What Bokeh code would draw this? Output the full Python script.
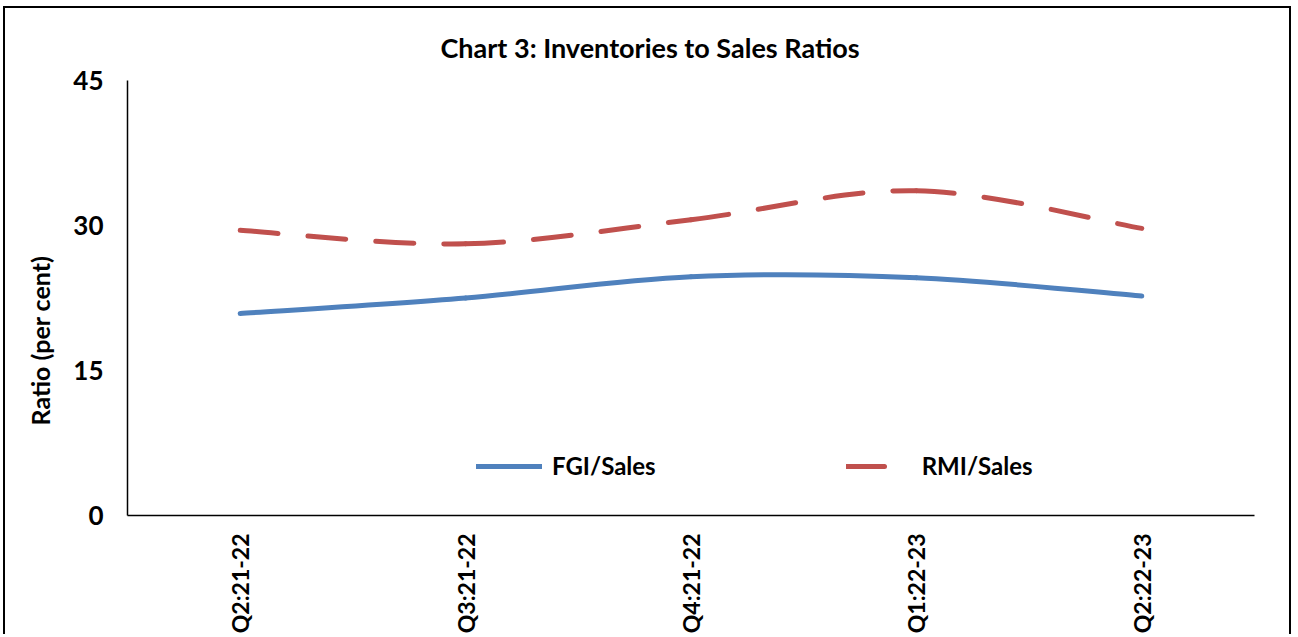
import numpy as np
from bokeh.plotting import figure
from bokeh.models import Range1d, FixedTicker, Legend, LegendItem, Title
from bokeh.embed import file_html
from bokeh.resources import INLINE

# ---- data ----
categories = ["Q2:21-22", "Q3:21-22", "Q4:21-22", "Q1:22-23", "Q2:22-23"]
fgi_sales = [20.9, 22.5, 24.7, 24.6, 22.7]
rmi_sales = [29.5, 28.1, 30.6, 33.6, 29.7]
y_ticks = [0, 15, 30, 45]

FONT = "Lato"
BLUE = "#4F81BD"
RED = "#C0504D"

xs = [i + 0.5 for i in range(len(categories))]


def smooth_segments(x, y):
    """Bezier control points for an Excel-style smoothed line."""
    px = [x[0]] + list(x) + [x[-1]]
    py = [y[0]] + list(y) + [y[-1]]
    seg = dict(x0=[], y0=[], x1=[], y1=[], cx0=[], cy0=[], cx1=[], cy1=[])
    for i in range(len(x) - 1):
        j = i + 1
        seg["x0"].append(px[j]); seg["y0"].append(py[j])
        seg["x1"].append(px[j + 1]); seg["y1"].append(py[j + 1])
        seg["cx0"].append(px[j] + (px[j + 1] - px[j - 1]) / 6)
        seg["cy0"].append(py[j] + (py[j + 1] - py[j - 1]) / 6)
        seg["cx1"].append(px[j + 1] - (px[j + 2] - px[j]) / 6)
        seg["cy1"].append(py[j + 1] - (py[j + 2] - py[j]) / 6)
    return seg


p = figure(width=1288, height=628, output_backend="svg", toolbar_location=None,
           x_range=Range1d(0, len(categories)), y_range=Range1d(0, 45),
           min_border_left=122, min_border_right=39, min_border_top=72, min_border_bottom=121)
p.styles = {"border": "2px solid #000000", "border-bottom": "none",
            "margin-left": "3px", "margin-top": "6px"}
p.outline_line_color = None
p.xgrid.visible = False
p.ygrid.visible = False

p.title.text = "Chart 3: Inventories to Sales Ratios"
p.title.align = "left"
p.title.offset = 313
p.title.standoff = 33
p.title.text_font = FONT
p.title.text_font_size = "27px"
p.title.text_font_style = "bold"
p.title.text_color = "#000000"

fgi_r = p.bezier(**smooth_segments(xs, fgi_sales), line_color=BLUE, line_width=5, line_cap="round")
rmi_r = p.bezier(**smooth_segments(xs, rmi_sales), line_color=RED, line_width=5, line_cap="round",
                 line_dash="38 30")

xa = p.xaxis[0]
xa.ticker = FixedTicker(ticks=xs)
xa.major_label_overrides = {x: c for x, c in zip(xs, categories)}
xa.major_label_orientation = np.pi / 2
xa.major_tick_line_color = None
xa.major_tick_out = 0
xa.major_tick_in = 0
xa.minor_tick_line_color = None
xa.axis_line_color = "#000000"
xa.axis_line_width = 1.5
xa.major_label_standoff = 18
xa.major_label_text_font = FONT
xa.major_label_text_font_size = "23px"
xa.major_label_text_font_style = "bold"
xa.major_label_text_color = "#000000"

ya = p.yaxis[0]
ya.ticker = FixedTicker(ticks=y_ticks)
ya.major_tick_line_color = None
ya.major_tick_out = 0
ya.major_tick_in = 0
ya.minor_tick_line_color = None
ya.axis_line_color = "#000000"
ya.axis_line_width = 1.5
ya.major_label_standoff = 24
ya.major_label_text_font = FONT
ya.major_label_text_font_size = "26px"
ya.major_label_text_font_style = "bold"
ya.major_label_text_color = "#000000"

ytitle = Title(text="Ratio (per cent)", align="left", offset=90, standoff=32,
               text_font=FONT, text_font_size="25px", text_font_style="bold",
               text_color="#000000")
p.add_layout(ytitle, "left")

legend = Legend(items=[LegendItem(label="FGI/Sales", renderers=[fgi_r]),
                       LegendItem(label="RMI/Sales", renderers=[rmi_r])],
                orientation="horizontal", location=(349, 35),
                border_line_color=None, background_fill_alpha=0,
                glyph_width=66, glyph_height=20, spacing=190, label_standoff=10,
                label_text_font=FONT, label_text_font_size="24px",
                label_text_font_style="bold", label_text_color="#000000")
p.add_layout(legend, "center")

open("out.html", "w").write(file_html(p, INLINE))
